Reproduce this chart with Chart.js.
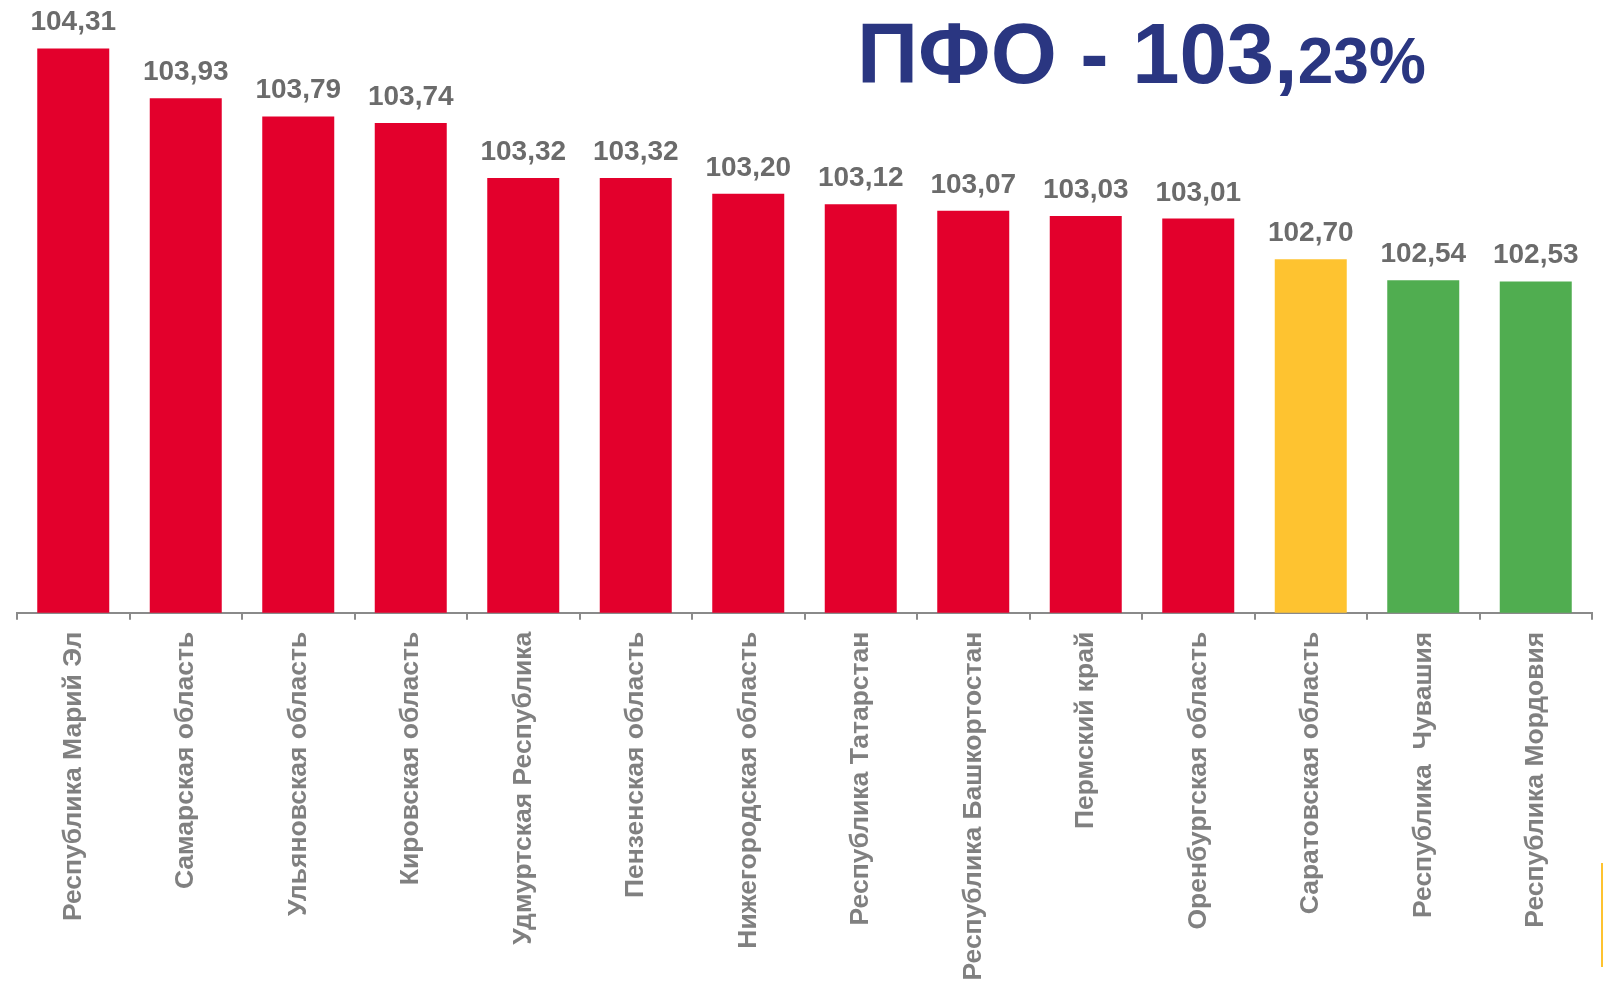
<!DOCTYPE html>
<html>
<head>
<meta charset="utf-8">
<script src="https://cdn.jsdelivr.net/npm/chart.js@4"></script>
<style>
  html, body { margin: 0; padding: 0; background: #fff; }
  #wrap { position: relative; width: 1604px; height: 984px; }
  #title {
    position: absolute; left: 857px; top: 11px;
    font-family: "Liberation Sans", Arial, sans-serif; font-weight: bold;
    color: #2a3681; font-size: 85px; line-height: 85px; white-space: nowrap;
  }
  #title .small { font-size: 64px; }
  #mark { position: absolute; left: 1601px; top: 863px; width: 2px; height: 104px; background: #fec330; }
</style>
</head>
<body>
<div id="wrap">
  <canvas id="regionChart" width="1604" height="984"></canvas>
  <div id="title">ПФО - 103,<span class="small">23%</span></div>
  <div id="mark"></div>
</div>
<script>
// regions of the Volga federal district, sorted by index
const regions = [
    'Республика Марий Эл', 'Самарская область', 'Ульяновская область', 'Кировская область',
    'Удмуртская Республика', 'Пензенская область', 'Нижегородская область', 'Республика Татарстан',
    'Республика Башкортостан', 'Пермский край', 'Оренбургская область', 'Саратовская область',
    'Республика  Чувашия', 'Республика Мордовия'
];
const values = [104.31, 103.93, 103.79, 103.74, 103.32, 103.32, 103.20, 103.12, 103.07, 103.03, 103.01, 102.70, 102.54, 102.53];
const barColors = [
    '#e3002c', '#e3002c', '#e3002c', '#e3002c', '#e3002c', '#e3002c', '#e3002c',
    '#e3002c', '#e3002c', '#e3002c', '#e3002c', '#fec330', '#50ad50', '#50ad50'
];

// draws the value above every bar
const valueLabels = {
    id: 'valueLabels',
    afterDatasetsDraw(chart) {
        const ctx = chart.ctx;
        const meta = chart.getDatasetMeta(0);
        ctx.save();
        ctx.font = 'bold 28px "Liberation Sans", Arial, sans-serif';
        ctx.fillStyle = '#6b6b6b';
        ctx.textAlign = 'center';
        ctx.textBaseline = 'alphabetic';
        meta.data.forEach((bar, i) => {
            ctx.fillText(values[i].toFixed(2).replace('.', ','), bar.x, bar.y - 18);
        });
        ctx.restore();
    }
};

const ctx = document.getElementById('regionChart').getContext('2d');
const chart = new Chart(ctx, {
    type: 'bar',
    data: {
        labels: regions,
        datasets: [{
            data: values,
            backgroundColor: barColors,
            borderWidth: 0,
            barPercentage: 0.64,
            categoryPercentage: 1.0
        }]
    },
    options: {
        responsive: false,
        animation: false,
        events: [],
        layout: { padding: { left: 17, right: 12, top: 23.5, bottom: 0 } },
        plugins: { legend: { display: false }, tooltip: { enabled: false } },
        scales: {
            x: {
                afterFit: scale => { scale.height = 371.3; },
                border: { display: true, color: '#8a8a8a', width: 2 },
                grid: { offset: true, drawOnChartArea: false, drawTicks: true, tickLength: 7, color: '#8a8a8a', lineWidth: 2 },
                ticks: {
                    autoSkip: false,
                    maxRotation: 90,
                    minRotation: 90,
                    padding: 12,
                    color: '#808080',
                    font: { family: '"Liberation Sans", Arial, sans-serif', size: 26.5, weight: 'bold' }
                }
            },
            y: {
                display: false,
                min: 100,
                max: 104.5
            }
        }
    },
    plugins: [valueLabels]
});
</script>
</body>
</html>
